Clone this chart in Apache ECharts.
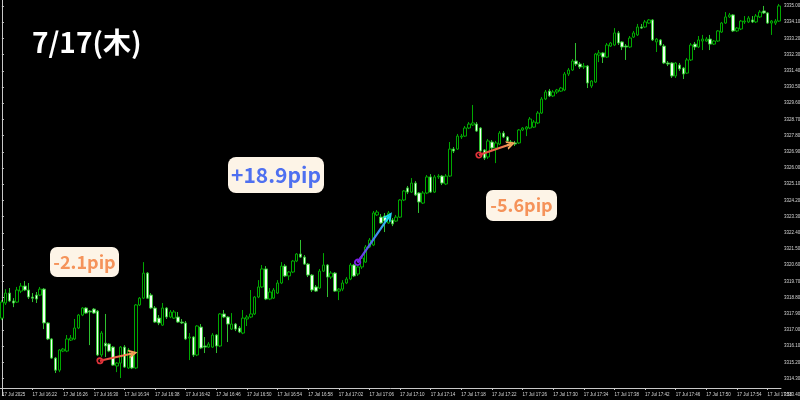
<!DOCTYPE html>
<html><head><meta charset="utf-8">
<script src="https://cdn.jsdelivr.net/npm/echarts@6/dist/echarts.min.js"></script>
<style>html,body{margin:0;padding:0;background:#000;}#c{width:800px;height:400px;}</style>
</head><body><div id="c"></div>
<script>
const BASE = 3313.40;      // lowest price label
const PRICE_TOP = 3335.33; // price at top edge of plot
const PRICE_STEP = 0.9;

const tickLabels = ["17 Jul 2025","17 Jul 16:22","17 Jul 16:26","17 Jul 16:30","17 Jul 16:34","17 Jul 16:38","17 Jul 16:42","17 Jul 16:46","17 Jul 16:50","17 Jul 16:54","17 Jul 16:58","17 Jul 17:02","17 Jul 17:06","17 Jul 17:10","17 Jul 17:14","17 Jul 17:18","17 Jul 17:22","17 Jul 17:26","17 Jul 17:30","17 Jul 17:34","17 Jul 17:38","17 Jul 17:42","17 Jul 17:46","17 Jul 17:50","17 Jul 17:54","17 Jul 17:58"];

const opens = [3317.66,3318.50,3319.05,3318.61,3318.55,3319.16,3319.44,3319.22,3318.83,3318.94,3318.94,3319.27,3317.39,3316.50,3315.44,3314.77,3315.83,3315.83,3316.44,3316.50,3317.11,3317.83,3318.22,3318.05,3318.16,3318.05,3315.61,3316.27,3316.22,3316.05,3315.00,3315.16,3316.05,3314.89,3315.61,3314.89,3318.39,3318.77,3320.16,3318.94,3318.22,3317.66,3317.27,3318.22,3317.72,3317.66,3317.72,3317.44,3317.39,3316.55,3316.61,3315.61,3317.16,3316.11,3316.05,3316.05,3316.72,3316.11,3317.89,3317.72,3317.05,3317.33,3317.11,3316.83,3317.61,3317.72,3317.89,3318.83,3319.39,3320.39,3318.72,3318.77,3319.05,3319.61,3320.55,3320.00,3320.22,3320.83,3321.22,3321.05,3320.66,3320.05,3319.39,3319.33,3320.27,3320.61,3319.94,3320.16,3319.16,3319.27,3319.61,3319.83,3320.61,3320.11,3320.50,3320.77,3321.61,3321.72,3323.39,3323.27,3323.33,3322.94,3323.11,3323.05,3323.27,3324.22,3324.89,3324.66,3325.16,3324.61,3324.05,3324.61,3325.50,3324.66,3325.50,3325.55,3325.11,3325.55,3327.05,3327.05,3327.72,3327.77,3328.22,3328.39,3328.44,3328.22,3327.00,3326.61,3327.44,3327.11,3327.33,3327.94,3327.72,3327.44,3327.39,3327.39,3328.11,3328.16,3328.22,3328.27,3328.50,3329.05,3329.83,3330.27,3330.00,3330.22,3330.27,3330.33,3331.22,3331.44,3331.94,3331.77,3331.61,3331.66,3330.55,3330.77,3332.27,3332.39,3332.16,3332.77,3332.83,3333.50,3333.00,3332.77,3332.72,3333.27,3333.39,3333.83,3333.83,3334.05,3334.22,3333.00,3333.11,3332.77,3331.83,3331.83,3331.11,3331.72,3331.55,3331.27,3332.00,3332.88,3332.72,3333.05,3333.05,3333.16,3332.88,3333.05,3333.55,3334.05,3334.39,3334.50,3333.61,3333.72,3334.11,3334.11,3334.22,3334.11,3334.39,3334.72,3334.61,3334.05,3334.05,3334.16];

const closes = [3318.55,3319.05,3318.61,3318.50,3319.22,3319.44,3319.22,3318.83,3318.77,3318.72,3319.27,3317.39,3316.50,3315.44,3314.77,3315.89,3315.94,3316.50,3316.55,3317.11,3317.83,3318.22,3317.94,3318.00,3317.94,3315.61,3316.83,3316.11,3315.83,3315.05,3315.16,3316.05,3314.94,3315.89,3314.89,3318.39,3318.77,3320.16,3318.77,3318.22,3317.44,3317.39,3318.22,3317.72,3318.00,3318.00,3317.44,3317.39,3316.50,3316.61,3315.61,3317.22,3316.00,3316.05,3316.22,3316.72,3316.11,3317.89,3317.72,3317.33,3317.33,3317.05,3316.89,3317.66,3317.72,3317.89,3318.83,3319.39,3320.39,3318.72,3319.11,3319.22,3319.61,3320.55,3320.00,3320.22,3320.83,3321.22,3321.05,3320.66,3320.05,3319.22,3319.16,3320.27,3320.61,3319.94,3320.16,3319.16,3319.27,3319.61,3319.83,3320.61,3320.00,3320.50,3321.00,3321.61,3322.00,3323.50,3323.55,3322.94,3323.05,3323.50,3322.89,3323.27,3324.22,3324.72,3324.66,3325.16,3324.50,3324.11,3324.61,3325.50,3324.66,3325.50,3325.55,3325.16,3325.55,3327.05,3326.94,3327.77,3327.77,3328.22,3328.44,3328.50,3328.05,3326.94,3326.55,3327.50,3327.11,3327.39,3327.94,3327.72,3327.50,3327.39,3327.33,3328.11,3328.22,3328.27,3328.72,3328.55,3329.05,3329.83,3330.22,3330.00,3330.22,3330.33,3330.44,3331.22,3331.44,3331.94,3331.77,3331.61,3331.66,3330.72,3330.83,3332.33,3332.39,3332.16,3332.83,3332.94,3333.50,3332.94,3332.72,3332.72,3333.22,3333.50,3333.83,3333.77,3334.11,3334.22,3333.11,3333.16,3332.83,3331.83,3331.77,3331.11,3331.83,3331.50,3331.22,3332.00,3332.83,3332.72,3333.11,3333.16,3333.16,3332.88,3333.05,3333.61,3334.05,3334.39,3334.50,3333.61,3333.77,3334.16,3334.16,3334.33,3334.11,3334.44,3334.66,3334.61,3334.05,3334.16,3334.16,3335.00];

const highs = [3318.66,3319.27,3319.33,3318.77,3319.39,3319.61,3319.72,3319.61,3319.05,3319.11,3319.39,3319.33,3317.44,3316.55,3315.50,3315.94,3316.00,3316.72,3316.72,3317.61,3317.89,3318.27,3318.27,3318.11,3318.22,3318.11,3316.94,3317.89,3316.27,3316.11,3315.22,3316.11,3316.16,3316.00,3315.77,3318.44,3318.83,3320.77,3320.22,3319.05,3318.33,3317.83,3318.50,3318.27,3318.11,3318.11,3318.00,3317.61,3317.50,3316.83,3316.66,3317.27,3317.33,3316.61,3316.33,3316.83,3316.77,3317.94,3318.11,3317.77,3317.94,3317.39,3317.22,3318.11,3317.83,3319.22,3318.88,3319.77,3320.61,3320.55,3319.33,3319.33,3319.77,3320.77,3320.66,3320.27,3320.89,3321.27,3322.00,3321.16,3320.72,3320.11,3319.50,3320.39,3321.27,3320.66,3320.27,3320.22,3319.33,3319.77,3319.94,3320.72,3320.66,3320.61,3321.05,3321.72,3322.11,3323.61,3323.66,3323.44,3323.50,3323.61,3323.22,3323.39,3324.27,3324.77,3325.00,3325.44,3325.27,3324.66,3324.72,3325.61,3325.66,3325.61,3325.66,3325.61,3325.66,3327.44,3327.16,3327.89,3327.89,3328.33,3328.55,3329.50,3328.55,3328.27,3327.05,3327.61,3327.55,3327.50,3328.05,3328.05,3327.77,3327.55,3327.50,3328.16,3328.27,3328.33,3328.83,3328.66,3329.16,3329.94,3330.33,3330.39,3330.33,3330.39,3330.50,3331.33,3331.55,3332.05,3332.94,3331.88,3331.83,3331.72,3330.88,3332.39,3332.55,3332.44,3332.94,3333.00,3333.77,3333.61,3333.05,3332.88,3333.33,3333.61,3334.00,3334.00,3334.22,3334.27,3334.27,3333.22,3333.16,3332.88,3331.94,3331.88,3331.88,3331.83,3331.61,3332.11,3332.94,3333.00,3333.33,3333.39,3333.27,3333.39,3333.11,3333.66,3334.11,3334.66,3334.61,3334.55,3333.83,3334.22,3334.44,3334.44,3334.44,3334.55,3334.77,3335.00,3334.66,3334.22,3334.27,3335.11];

const lows = [3317.55,3318.39,3318.55,3318.27,3318.50,3319.05,3319.16,3318.72,3318.55,3318.50,3318.88,3317.05,3316.44,3315.39,3314.61,3314.66,3315.77,3315.77,3316.39,3316.44,3317.05,3317.77,3317.89,3316.16,3317.89,3315.55,3315.50,3315.50,3315.77,3315.00,3314.66,3314.33,3314.89,3314.83,3314.83,3314.83,3318.33,3318.72,3318.72,3318.16,3317.39,3317.27,3317.22,3317.61,3317.66,3317.61,3317.39,3317.33,3316.44,3315.33,3315.50,3315.55,3315.94,3315.72,3316.00,3316.00,3315.72,3316.05,3317.66,3316.33,3317.00,3316.94,3316.83,3316.77,3317.22,3317.66,3317.83,3318.77,3319.33,3318.66,3318.66,3318.72,3319.00,3319.55,3319.94,3319.77,3320.16,3320.77,3321.00,3320.61,3319.94,3319.11,3319.11,3319.27,3320.22,3318.83,3319.83,3319.11,3318.66,3319.16,3319.55,3319.77,3319.94,3320.00,3320.39,3320.72,3321.55,3321.66,3323.33,3322.89,3322.44,3322.89,3322.77,3323.00,3323.22,3324.16,3324.55,3324.61,3324.44,3323.50,3324.00,3324.55,3324.61,3324.61,3325.39,3325.05,3325.05,3325.50,3326.83,3327.00,3327.61,3327.72,3328.16,3328.33,3328.00,3326.89,3326.44,3326.50,3327.00,3326.27,3327.27,3327.66,3327.39,3327.27,3327.22,3327.33,3328.05,3327.77,3328.16,3328.22,3328.44,3329.00,3329.77,3329.94,3329.94,3330.11,3330.22,3330.27,3331.11,3331.39,3331.66,3331.50,3331.50,3330.44,3330.44,3330.72,3331.88,3331.83,3332.11,3332.72,3332.77,3332.83,3332.55,3332.00,3332.66,3333.22,3333.33,3333.72,3333.77,3334.00,3333.05,3332.44,3332.77,3331.77,3331.66,3331.00,3331.00,3331.39,3330.94,3331.22,3331.94,3332.55,3332.66,3332.55,3333.00,3332.55,3332.83,3333.00,3333.50,3334.00,3334.33,3333.55,3333.55,3333.66,3334.00,3334.05,3334.05,3334.05,3334.33,3334.55,3334.00,3333.39,3333.94,3334.11];

// arrows: [startIndex, startPrice] -> [endIndex, endPrice]
const arrowFrom = [[25.6, 3315.29], [92.9, 3320.76], [124.6, 3326.72]];
const arrowTo   = [[34.3, 3315.71], [101.2, 3323.33], [133.0, 3327.33]];
const arrowColors = [['#e0333a', '#f5a058'], ['#7a1fe6', '#1fd6f2'], ['#e0333a', '#f5a058']];

const chart = echarts.init(document.getElementById('c'), null, {renderer: 'canvas'});
const N = opens.length;
const categories = opens.map((_, i) => String(i));
const candleData = opens.map((o, i) => [o - BASE, closes[i] - BASE, lows[i] - BASE, highs[i] - BASE]);

const toPt = p => [p[0], p[1] - BASE];
const along = (a, b, t) => [a[0] + (b[0] - a[0]) * t, a[1] + (b[1] - a[1]) * t];
const RING = 'path://M0,5A5,5,0,1,1,10,5A5,5,0,1,1,0,5ZM2.4,5A2.6,2.6,0,1,0,7.6,5A2.6,2.6,0,1,0,2.4,5Z';
const CHEVRON = 'path://M0,10L5,0L10,10L7.8,10L5,4.4L2.2,10Z';

const bodyLines = arrowFrom.map((f, i) => ({
  coords: [toPt(f), toPt(arrowTo[i])],
  lineStyle: {color: new echarts.graphic.LinearGradient(0, 1, 1, 0, [
    {offset: 0, color: arrowColors[i][0]}, {offset: 1, color: arrowColors[i][1]}])}
}));
const startLines = arrowFrom.map((f, i) => ({
  coords: [toPt(f), toPt(along(f, arrowTo[i], 0.12))],
  lineStyle: {color: arrowColors[i][0]}
}));
const endLines = arrowFrom.map((f, i) => ({
  coords: [toPt(along(f, arrowTo[i], 0.88)), toPt(arrowTo[i])],
  lineStyle: {color: arrowColors[i][1]}
}));

const labelFont = '"Noto Sans CJK JP", "Noto Sans", sans-serif';
const axisColor = '#c8c8c8';

chart.setOption({
  backgroundColor: '#000000',
  animation: false,
  grid: {left: 0, right: 19, top: 0, bottom: 5.2, containLabel: false, outerBoundsMode: 'none'},
  xAxis: [{
    type: 'category', data: categories, boundaryGap: true, offset: -6.8,
    axisLine: {show: true, lineStyle: {color: axisColor, width: 1}},
    axisTick: {show: true, alignWithLabel: true, interval: (i) => i % 8 === 0, length: 2, lineStyle: {color: axisColor}},
    axisLabel: {interval: (i) => i % 8 === 0, formatter: (v, i) => tickLabels[i / 8] || '',
      align: 'left', fontSize: 4.5, color: '#d8d8d8', margin: 4, fontFamily: 'Liberation Sans'},
    splitLine: {show: false}
  }, {
    type: 'value', min: -0.5, max: N - 0.5, show: false
  }],
  yAxis: {
    type: 'value', position: 'right', min: 0, max: PRICE_TOP - BASE, interval: PRICE_STEP,
    axisLine: {show: true, lineStyle: {color: axisColor, width: 1}},
    axisTick: {show: true, length: 2, lineStyle: {color: axisColor}},
    axisLabel: {showMaxLabel: false, fontSize: 4.5, color: '#d8d8d8', margin: 3, fontFamily: 'Liberation Sans',
      formatter: v => (v + BASE).toFixed(2)},
    splitLine: {show: false}
  },
  series: [{
    type: 'candlestick', xAxisIndex: 0, yAxisIndex: 0, data: candleData, barWidth: 3,
    itemStyle: {color: '#000000', color0: '#f2fff2', borderColor: '#00a800', borderColor0: '#30c030', borderWidth: 1}
  }, {
    type: 'lines', coordinateSystem: 'cartesian2d', xAxisIndex: 1, yAxisIndex: 0, z: 5,
    symbol: 'none', lineStyle: {width: 2.2, opacity: 1, curveness: 0}, data: bodyLines
  }, {
    type: 'lines', coordinateSystem: 'cartesian2d', xAxisIndex: 1, yAxisIndex: 0, z: 6,
    symbol: [RING, 'none'], symbolSize: 7, lineStyle: {width: 2.2, opacity: 1}, data: startLines
  }, {
    type: 'lines', coordinateSystem: 'cartesian2d', xAxisIndex: 1, yAxisIndex: 0, z: 6,
    symbol: ['none', CHEVRON], symbolSize: 9, lineStyle: {width: 2.2, opacity: 1}, data: endLines
  }],
  graphic: [
    {type: 'text', z: 10, style: {x: 32, y: 42, text: '7/17(木)', fill: '#ffffff',
      font: 'bold 28px ' + labelFont, align: 'left', verticalAlign: 'middle'}},
    {type: 'rect', z: 10, shape: {x: 50, y: 247, width: 69, height: 30, r: 7}, style: {fill: '#fdf4e7'}},
    {type: 'text', z: 11, style: {x: 84.5, y: 262, text: '-2.1pip', fill: '#f5935a',
      font: 'bold 18px ' + labelFont, align: 'center', verticalAlign: 'middle'}},
    {type: 'rect', z: 10, shape: {x: 228, y: 157, width: 96, height: 36, r: 8}, style: {fill: '#fdf4e7'}},
    {type: 'text', z: 11, style: {x: 276, y: 175, text: '+18.9pip', fill: '#4f70f0',
      font: 'bold 21px ' + labelFont, align: 'center', verticalAlign: 'middle'}},
    {type: 'rect', z: 10, shape: {x: 486, y: 190, width: 71, height: 31, r: 7}, style: {fill: '#fdf4e7'}},
    {type: 'text', z: 11, style: {x: 521.5, y: 205.5, text: '-5.6pip', fill: '#f5935a',
      font: 'bold 18px ' + labelFont, align: 'center', verticalAlign: 'middle'}}
  ]
});
</script></body></html>
